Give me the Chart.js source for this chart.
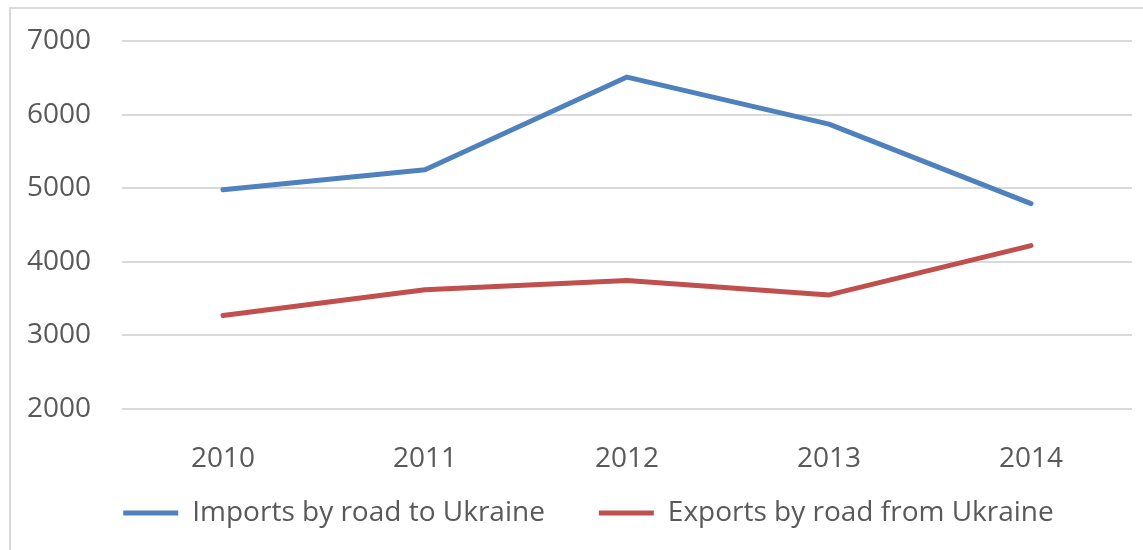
<!DOCTYPE html>
<html>
<head>
<meta charset="utf-8">
<script src="https://cdn.jsdelivr.net/npm/chart.js@4.4.0/dist/chart.umd.min.js"></script>
<style>
  html, body { margin: 0; padding: 0; background: #fff; overflow: hidden; }
  #frame { position: absolute; left: 9px; top: 7px; width: 1300px; height: 700px; border: 2px solid #d9d9d9; }
  #wrap { position: absolute; left: 0; top: 0; width: 1143px; height: 550px; }
</style>
</head>
<body>
<div id="frame"></div>
<div id="wrap"><canvas id="chart" width="1143" height="550"></canvas></div>
<script>
// chart values
const years = ['2010', '2011', '2012', '2013', '2014'];
const imports = [4980, 5250, 6510, 5870, 4790];
const exports = [3270, 3620, 3745, 3550, 4220];
const yTicks = [2000, 3000, 4000, 5000, 6000, 7000];

const fontFamily = '"Open Sans", "Liberation Sans", sans-serif';
const textColor = '#595959';

// let tick labels spill outside the (squeezed) scale boxes
function noLabelClip(scale) {
    scale._computeLabelArea = function () { return undefined; };
}

const ctx = document.getElementById('chart');
new Chart(ctx, {
    type: 'line',
    data: {
        labels: years,
        datasets: [{
            label: 'Imports by road to Ukraine',
            data: imports,
            borderColor: '#4F81BD',
            backgroundColor: '#4F81BD',
            borderWidth: 5,
            pointRadius: 0,
            tension: 0,
            borderJoinStyle: 'round',
            borderCapStyle: 'round'
        }, {
            label: 'Exports by road from Ukraine',
            data: exports,
            borderColor: '#C0504D',
            backgroundColor: '#C0504D',
            borderWidth: 5,
            pointRadius: 0,
            tension: 0,
            borderJoinStyle: 'round',
            borderCapStyle: 'round'
        }]
    },
    options: {
        responsive: false,
        animation: false,
        layout: { padding: { left: 45, right: 11, top: 41, bottom: 13 } },
        plugins: {
            tooltip: { enabled: false },
            legend: {
                position: 'bottom',
                labels: {
                    boxWidth: 55,
                    boxHeight: 5,
                    color: textColor,
                    font: { family: fontFamily, size: 28 },
                    padding: 54,
                    generateLabels: function (chart) {
                        return chart.data.datasets.map(function (ds, i) {
                            return {
                                text: ds.label,
                                fillStyle: ds.borderColor,
                                strokeStyle: ds.borderColor,
                                lineWidth: 0,
                                datasetIndex: i,
                                fontColor: textColor
                            };
                        });
                    }
                }
            }
        },
        scales: {
            x: {
                offset: true,
                afterFit: function (scale) {
                    scale.height = 36;
                    noLabelClip(scale);
                },
                grid: { display: false },
                border: { display: false },
                ticks: { color: textColor, font: { family: fontFamily, size: 28 }, padding: 25, maxRotation: 0 }
            },
            y: {
                min: 2000,
                max: 7000,
                afterFit: function (scale) {
                    scale.width = 77;
                    scale.paddingTop = 0;
                    scale.paddingBottom = 0;
                    noLabelClip(scale);
                },
                afterBuildTicks: function (scale) {
                    scale.ticks = yTicks.map(function (v) { return { value: v }; });
                },
                grid: { color: '#d9d9d9', lineWidth: 2, drawTicks: false },
                border: { display: false },
                ticks: {
                    color: textColor,
                    font: { family: fontFamily, size: 28 },
                    padding: 31,
                    callback: function (value) { return String(value); }
                }
            }
        }
    }
});
</script>
</body>
</html>
